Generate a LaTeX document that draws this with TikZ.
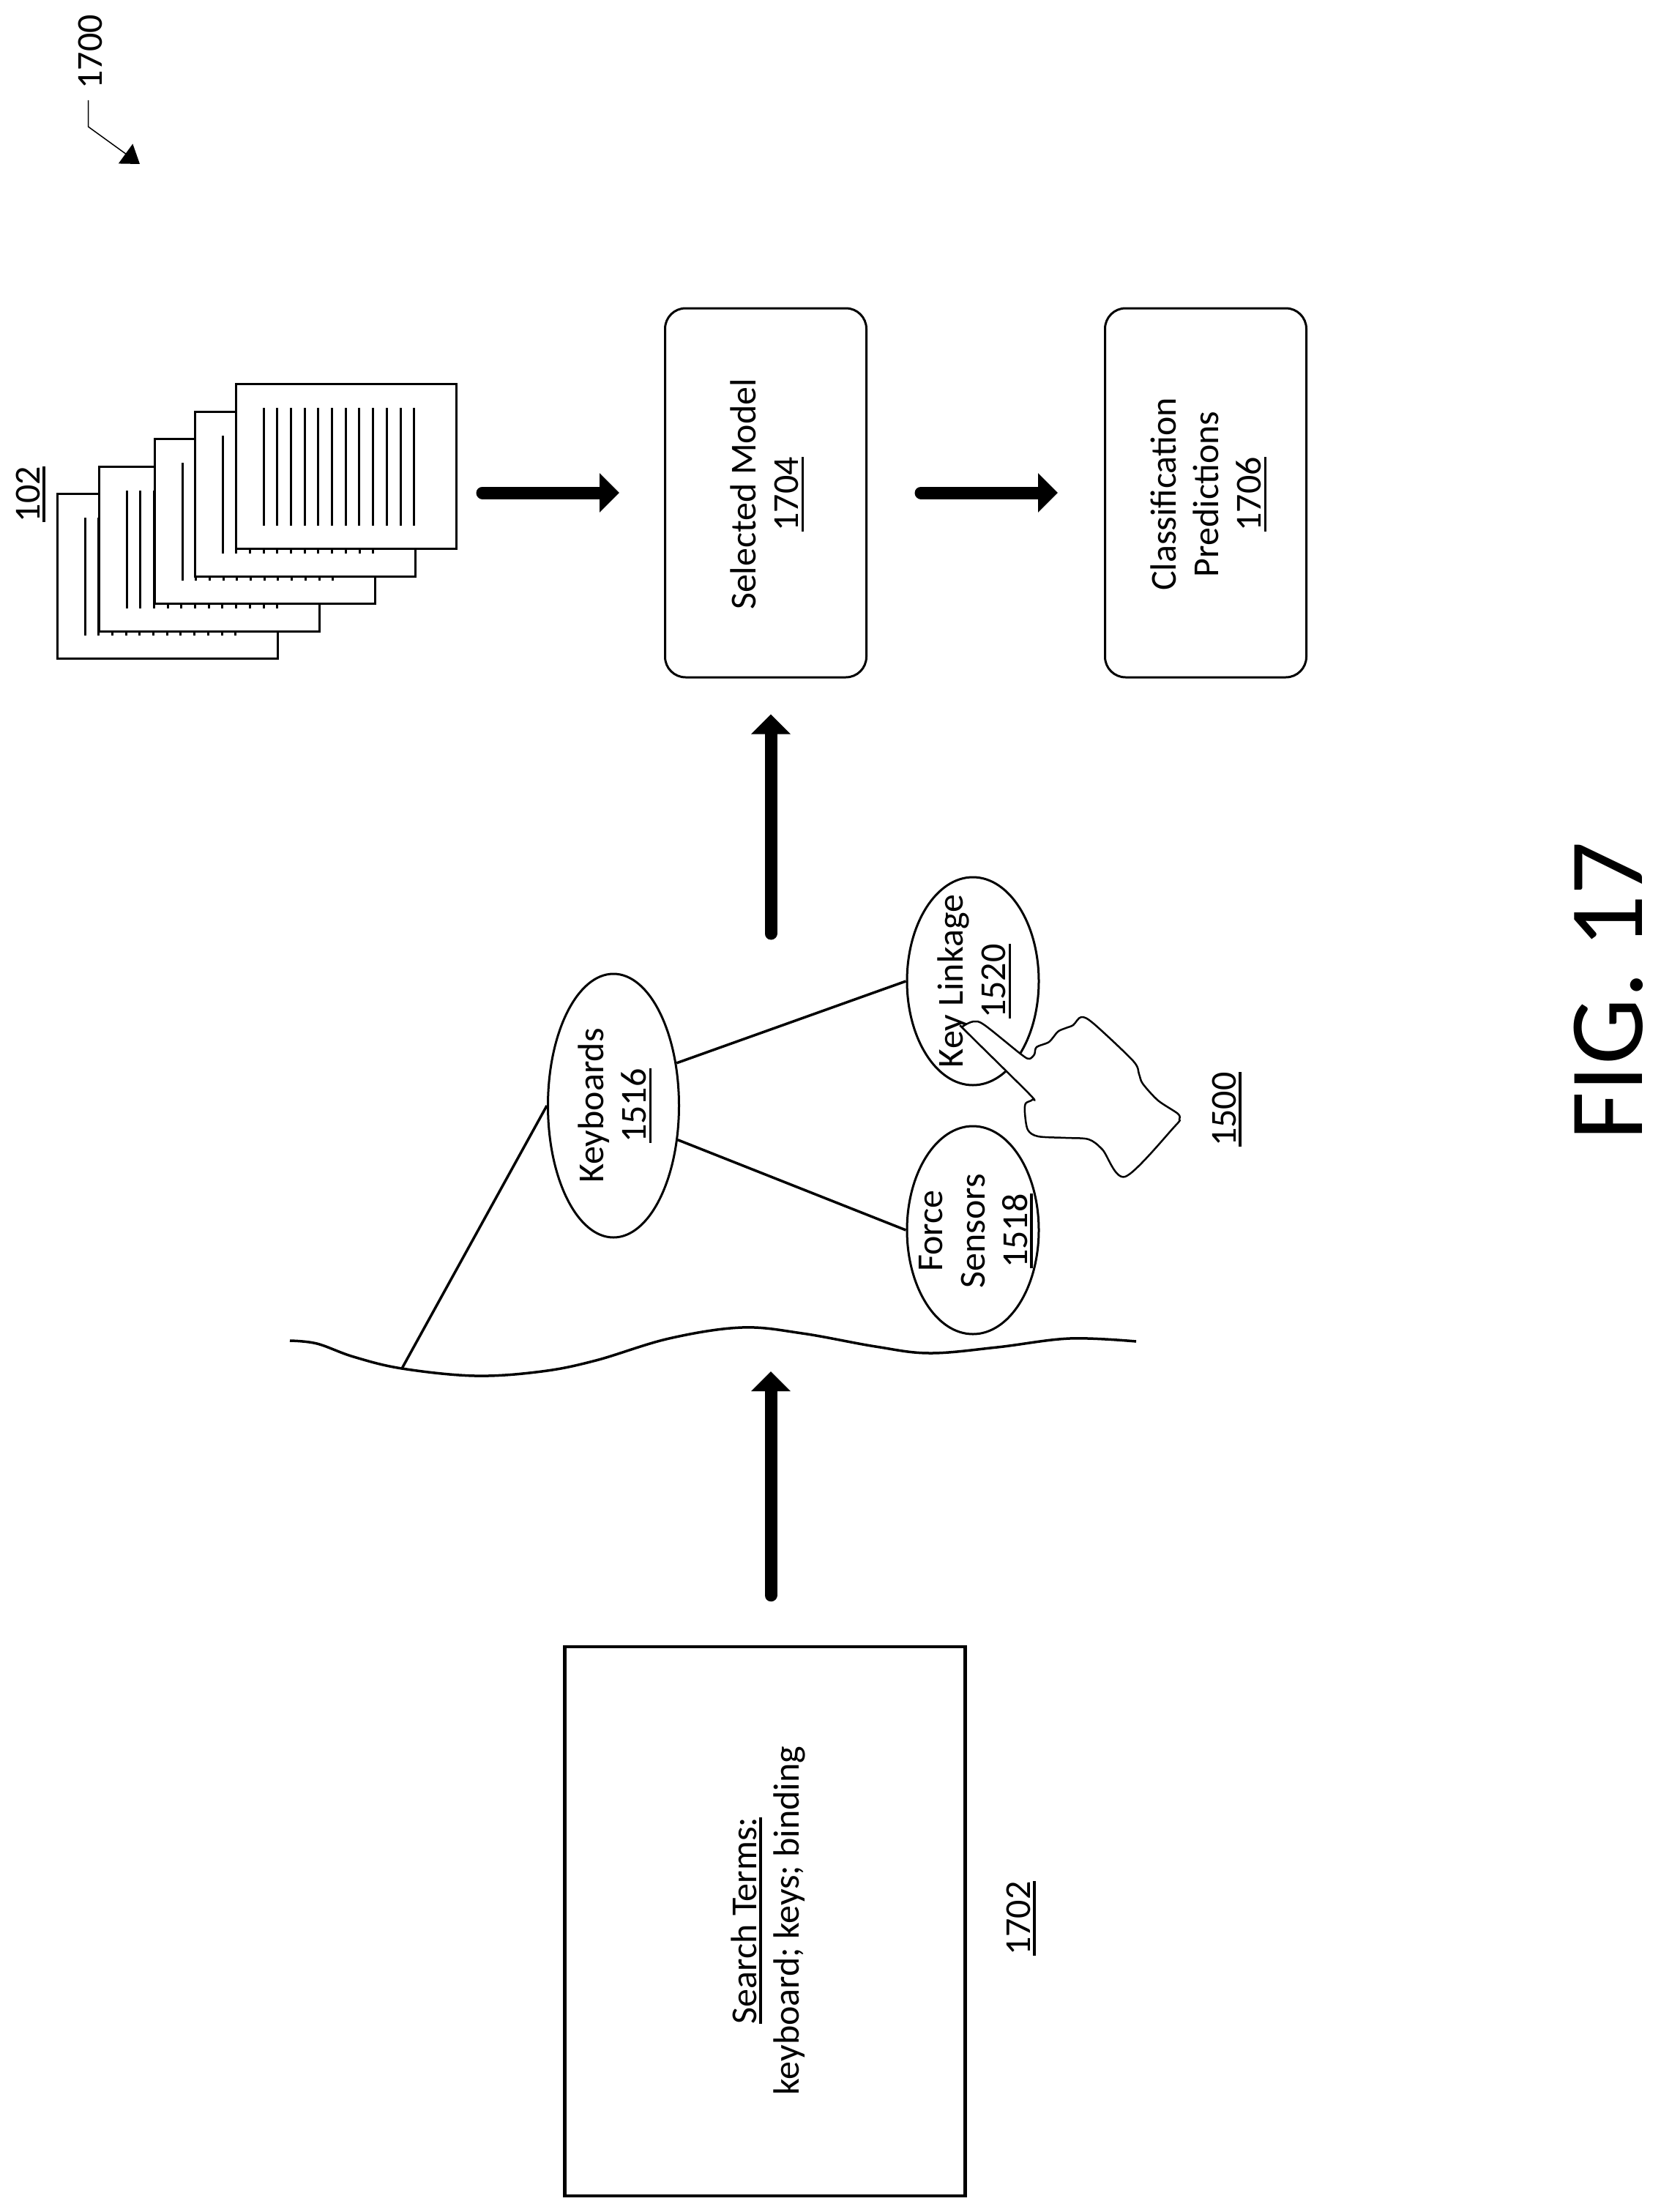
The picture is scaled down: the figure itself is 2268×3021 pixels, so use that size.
\documentclass[tikz,border=0pt]{standalone}
\usepackage{fontspec}
\setmainfont{Carlito}
\usetikzlibrary{arrows.meta}
\usetikzlibrary{shapes.geometric}
\newcommand{\ultext}[1]{\setbox0=\hbox{#1}\rlap{\rule[-7.5pt]{\wd0}{3.5pt}}\box0}
\tikzset{
  lbl/.style={rotate=90, align=center, inner sep=0pt, font=\fontsize{50}{58}\selectfont},
  modelbox/.style={lbl, draw, line width=3pt, rounded corners=28pt, minimum width=504pt, minimum height=275pt},
  termsbox/.style={lbl, draw, line width=4.5pt, minimum width=750pt, minimum height=547pt},
  topicnode/.style={lbl, draw, ellipse, line width=3pt, minimum width=284pt, minimum height=180pt},
  pagebox/.style={draw, fill=white, line width=3pt, minimum width=301pt, minimum height=225pt, inner sep=0pt},
  bigarrow/.style={line width=17pt, line cap=round, -{Triangle[length=27pt,width=52pt]}},
  treeline/.style={line width=3.5pt}
}

\begin{document}
\begin{tikzpicture}[x=1pt,y=-1pt]
\useasboundingbox (0,0) rectangle (2268,3021);

\node[lbl] (fignum) at (123,71) {1700};
\coordinate (leadbend) at (120.5,173);
\coordinate (leadtip) at (191,224);
\draw[line width=1.5pt, shorten <=15pt, -{Triangle[length=24pt,width=33pt]}] (fignum.west -| leadbend) -- (leadbend) -- (leadtip); %1700 leader

% stacked pages, back to front
\foreach \n/\px/\py in {1/77/673, 2/134/636, 3/210/598, 4/265/561, 5/321/523}{
  \node[pagebox, anchor=north west] (pg\n) at (\px,\py) {};
  \foreach \j in {0,...,11}{
    \draw[line width=3pt] (\px+39+\j*18.7,\py+34) -- (\px+39+\j*18.7,\py+195);
  }
}
\node[lbl] (pileref) at (42,675) {\ultext{102}};

\node[modelbox] (model) at (1046,673) {};
\node[lbl] (modeltext) at (1048,675) {Selected Model\\\ultext{1704}};
\node[modelbox] (predict) at (1647,673) {};
\node[lbl] (predicttext) at (1651,675) {Classification\\Predictions\\\ultext{1706}};
\draw[bigarrow, shorten <=34pt, shorten >=61pt] (pg5.east |- model.center) -- (model.north); %into model
\draw[bigarrow, shorten <=73pt, shorten >=63pt] (model.south) -- (predict.north); %into predictions

\node[termsbox] (terms) at (1045,2624) {};
\node[lbl] (termstext) at (1049,2623) {\ultext{Search Terms:}\\keyboard; keys; binding};
\node[lbl] (termsref) at (1395,2620) {\ultext{1702}};

% wavy cut of the taxonomy
\draw[line width=3.5pt] plot[smooth, tension=0.6] coordinates {(396,1831) (433,1835) (483,1853) (549,1869) (649,1879) (740,1873) (814,1858) (914,1828) (1013,1813) (1096,1821) (1196,1839) (1270,1848) (1362,1840) (1461,1828) (1552,1832)};
\coordinate (wavejoin) at (549,1869);
\coordinate (wavein) at (1053,1873);
\coordinate (treeout) at (1053,1275);
\draw[bigarrow, shorten <=68pt] (terms.east -| wavein) -- (wavein); %terms to taxonomy
\draw[bigarrow, shorten >=49pt] (treeout) -- (model.west -| treeout); %taxonomy to model

\node[topicnode, minimum width=360pt, minimum height=179pt] (kbd) at (838,1510) {};
\node[lbl] (kbdtext) at (840,1510) {Keyboards\\\ultext{1516}};
\node[topicnode] (linkage) at (1329,1340) {};
\node[lbl] (linkagetext) at (1331,1340) {Key Linkage\\\ultext{1520}};
\node[topicnode] (sensors) at (1329,1680) {};
\node[lbl] (sensorstext) at (1333,1681) {Force\\Sensors\\\ultext{1518}};
\draw[treeline] (kbd.north) -- (wavejoin);
\draw[treeline] (kbd.-56) -- (linkage.north);
\draw[treeline] (kbd.-118) -- (sensors.north);

% pointing hand
\draw[line width=2.5pt, fill=white] plot[smooth cycle, tension=0.5] coordinates {(1315,1402) (1330,1395) (1345,1400) (1395,1440) (1406,1446) (1413,1440) (1416,1430) (1433,1423) (1445,1409) (1456,1404) (1466,1400) (1477,1389) (1494,1398) (1548,1449) (1556,1467) (1561,1480) (1582,1503) (1609,1521) (1611,1529) (1605,1538) (1537,1607) (1506,1570) (1487,1556) (1456,1554) (1418,1552) (1404,1543) (1400,1520) (1401,1507) (1410,1502) (1406,1494) (1318,1407)};
\node[lbl] (treeref) at (1676,1515) {\ultext{1500}};

\node[lbl, font=\fontsize{144}{170}\selectfont] (figlabel) at (2197,1353) {FIG. 17};
\end{tikzpicture}
\end{document}
